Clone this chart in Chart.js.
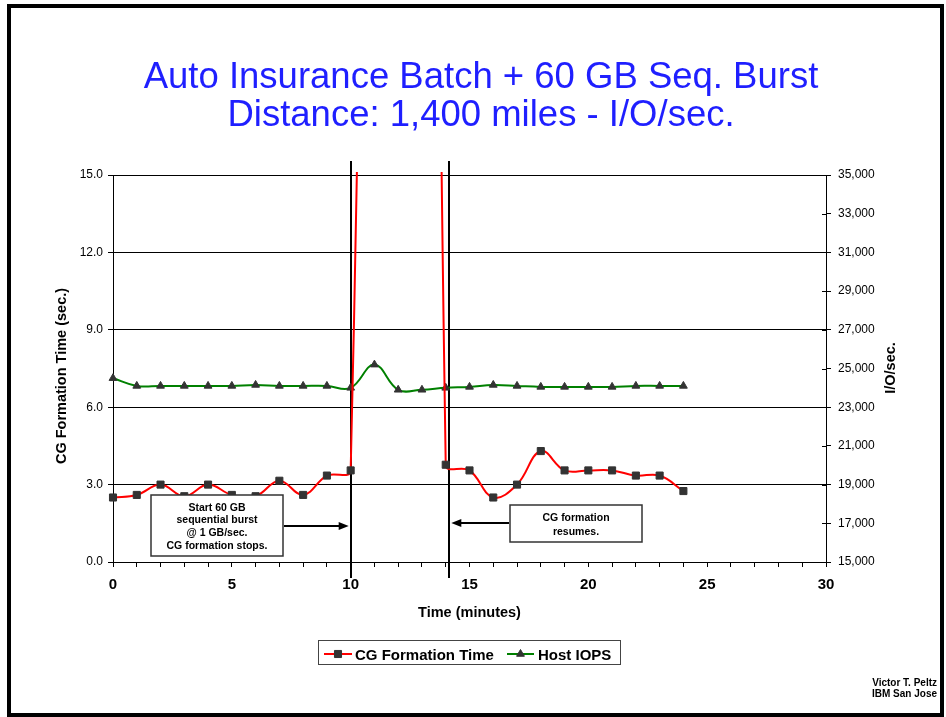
<!DOCTYPE html>
<html>
<head>
<meta charset="utf-8">
<title>Auto Insurance Batch + 60 GB Seq. Burst</title>
<script src="https://cdn.jsdelivr.net/npm/chart.js@4.4.1/dist/chart.umd.min.js"></script>
<style>
  html, body { margin: 0; padding: 0; background: #fff; }
  #wrap { width: 946px; height: 717px; }
</style>
</head>
<body>
<div id="wrap"><canvas id="chart" width="946" height="717"></canvas></div>
<script>
const FONT = "'Liberation Sans', Arial, Helvetica, sans-serif";

// data
const minutes = [0, 1, 2, 3, 4, 5, 6, 7, 8, 9, 10, 11, 12, 13, 14, 15, 16, 17, 18, 19, 20, 21, 22, 23, 24];
// CG formation time (sec.) - 11..13 are far off the top of the scale
const cgTime = [2.5, 2.6, 3.0, 2.55, 3.0, 2.6, 2.55, 3.15, 2.6, 3.35, 3.55, 80, 110, 120, 3.77, 3.55, 2.5, 3.0, 4.3, 3.55, 3.55, 3.55, 3.35, 3.35, 2.75];
// host I/O per second
const hostIops = [24500, 24100, 24100, 24100, 24100, 24100, 24150, 24100, 24100, 24100, 24000, 25200, 23900, 23900, 24000, 24050, 24150, 24100, 24050, 24050, 24050, 24050, 24100, 24100, 24100];

const seriesNames = ["CG Formation Time", "Host IOPS"];
const eventMinutes = [10, 14.15]; // burst start / CG formation resumes
const titleLines = ["Auto Insurance Batch + 60 GB Seq. Burst", "Distance: 1,400 miles - I/O/sec."];
const startNote = ["Start 60 GB", "sequential burst", "@ 1 GB/sec.", "CG formation stops."];
const resumeNote = ["CG formation", "resumes."];
const credits = ["Victor T. Peltz", "IBM San Jose"];

function arrow(ctx, x1, y, x2) {
  const dir = Math.sign(x2 - x1);
  ctx.beginPath();
  ctx.moveTo(x1, y);
  ctx.lineTo(x2 - dir * 8, y);
  ctx.stroke();
  ctx.beginPath();
  ctx.moveTo(x2, y);
  ctx.lineTo(x2 - dir * 10, y - 4);
  ctx.lineTo(x2 - dir * 10, y + 4);
  ctx.closePath();
  ctx.fill();
}

function noteBox(ctx, l, t, w, h, lines, firstBase, lh) {
  ctx.fillStyle = '#fff';
  ctx.fillRect(l, t, w, h);
  ctx.strokeStyle = '#333';
  ctx.lineWidth = 1.5;
  ctx.strokeRect(l, t, w, h);
  ctx.fillStyle = '#000';
  ctx.font = 'bold 10.5px ' + FONT;
  ctx.textAlign = 'center';
  ctx.textBaseline = 'alphabetic';
  lines.forEach((s, i) => ctx.fillText(s, l + w / 2, firstBase + i * lh));
}

const decor = {
  id: 'decor',
  beforeDatasetsDraw(chart) {
    const { ctx, chartArea: a, scales } = chart;
    ctx.save();
    // event lines
    ctx.strokeStyle = '#000';
    ctx.lineWidth = 2;
    eventMinutes.forEach(m => {
      const px = Math.round(scales.x.getPixelForValue(m));
      ctx.beginPath();
      ctx.moveTo(px, a.top - 14);
      ctx.lineTo(px, a.bottom + 16);
      ctx.stroke();
    });
    // right axis ticks crossing into plot
    ctx.lineWidth = 1;
    scales.y2.ticks.forEach(t => {
      const py = Math.round(scales.y2.getPixelForValue(t.value)) + 0.5;
      ctx.beginPath();
      ctx.moveTo(a.right - 4, py);
      ctx.lineTo(a.right, py);
      ctx.stroke();
    });
    ctx.restore();
  },
  afterDatasetsDraw(chart) {
    const { ctx, scales } = chart;
    const x1 = scales.x.getPixelForValue(eventMinutes[0]);
    const x2 = scales.x.getPixelForValue(eventMinutes[1]);
    ctx.save();
    noteBox(ctx, 151, 495, 132, 61, startNote, 510.5, 12.8);
    noteBox(ctx, 510, 505, 132, 37, resumeNote, 520.5, 14.3);
    ctx.strokeStyle = '#000';
    ctx.fillStyle = '#000';
    ctx.lineWidth = 2;
    arrow(ctx, 284, 526, x1 - 2);
    arrow(ctx, 509, 523, x2 + 2);
    ctx.restore();
  },
  afterDraw(chart) {
    const { ctx, chartArea: a } = chart;
    ctx.save();
    // title
    ctx.fillStyle = '#1f1fff';
    ctx.font = '36.5px ' + FONT;
    ctx.textAlign = 'center';
    ctx.textBaseline = 'alphabetic';
    ctx.fillText(titleLines[0], 481, 88);
    ctx.fillText(titleLines[1], 481, 126);

    // axis titles
    ctx.fillStyle = '#000';
    ctx.font = 'bold 14.5px ' + FONT;
    ctx.textBaseline = 'middle';
    ctx.fillText('Time (minutes)', (a.left + a.right) / 2, 613);
    ctx.save();
    ctx.translate(62, 376);
    ctx.rotate(-Math.PI / 2);
    ctx.fillText('CG Formation Time (sec.)', 0, 0);
    ctx.restore();
    ctx.save();
    ctx.translate(891, 368);
    ctx.rotate(-Math.PI / 2);
    ctx.fillText('I/O/sec.', 0, 0);
    ctx.restore();

    // legend
    ctx.strokeStyle = '#444';
    ctx.lineWidth = 1;
    ctx.strokeRect(318.5, 640.5, 302, 24);
    const items = [
      { x0: 324, x1: 352, tx: 355, color: '#ff0000', style: 'rect', r: 5 },
      { x0: 507, x1: 534, tx: 538, color: '#008000', style: 'triangle', r: 4.5 }
    ];
    ctx.font = 'bold 15px ' + FONT;
    ctx.textAlign = 'left';
    ctx.textBaseline = 'alphabetic';
    items.forEach((it, i) => {
      ctx.strokeStyle = it.color;
      ctx.lineWidth = 2;
      ctx.beginPath();
      ctx.moveTo(it.x0, 654);
      ctx.lineTo(it.x1, 654);
      ctx.stroke();
      ctx.fillStyle = '#333';
      ctx.strokeStyle = '#333';
      ctx.lineWidth = 1;
      Chart.helpers.drawPoint(ctx, { pointStyle: it.style, radius: it.r, borderWidth: 1 }, (it.x0 + it.x1) / 2, 654);
      ctx.fillStyle = '#000';
      ctx.fillText(seriesNames[i], it.tx, 659.5);
    });

    // credits
    ctx.font = 'bold 10px ' + FONT;
    ctx.textAlign = 'right';
    ctx.fillText(credits[0], 937, 685.5);
    ctx.fillText(credits[1], 937, 696.5);

    // slide frame
    ctx.strokeStyle = '#000';
    ctx.lineWidth = 4;
    ctx.strokeRect(9, 6, 933, 709);
    ctx.restore();
  }
};

const dataClip = { left: 8, right: 8, top: 3, bottom: 8 };

new Chart(document.getElementById('chart'), {
  type: 'line',
  data: {
    datasets: [
      {
        label: seriesNames[0],
        data: minutes.map((m, i) => ({ x: m, y: cgTime[i] })),
        yAxisID: 'y',
        borderColor: '#ff0000',
        borderWidth: 2,
        pointStyle: 'rect',
        pointRadius: 5,
        pointBackgroundColor: '#333',
        pointBorderColor: '#333',
        pointBorderWidth: 1,
        tension: 0.4,
        clip: dataClip
      },
      {
        label: seriesNames[1],
        data: minutes.map((m, i) => ({ x: m, y: hostIops[i] })),
        yAxisID: 'y2',
        borderColor: '#008000',
        borderWidth: 2,
        pointStyle: 'triangle',
        pointRadius: 4.5,
        pointBackgroundColor: '#333',
        pointBorderColor: '#333',
        pointBorderWidth: 1,
        tension: 0.4,
        clip: dataClip
      }
    ]
  },
  options: {
    responsive: false,
    animation: false,
    layout: { padding: { top: 175, left: 0, right: 0, bottom: 0 } },
    elements: { line: { capBezierPoints: false } },
    plugins: {
      legend: { display: false },
      title: { display: false },
      tooltip: { enabled: false }
    },
    scales: {
      x: {
        type: 'linear',
        min: 0,
        max: 30,
        ticks: {
          stepSize: 1,
          autoSkip: false,
          maxRotation: 0,
          padding: 9,
          color: '#000',
          font: { family: FONT, size: 15, weight: 'bold' },
          callback: v => (v % 5 === 0 ? String(v) : '')
        },
        grid: { drawOnChartArea: false, tickLength: 5, color: '#000' },
        border: { color: '#000', width: 1 },
        afterFit(s) { s.height = 155; }
      },
      y: {
        position: 'left',
        min: 0,
        max: 15,
        ticks: {
          stepSize: 3,
          padding: 5,
          color: '#000',
          font: { family: FONT, size: 12 },
          callback: v => v.toFixed(1)
        },
        grid: { color: '#000', tickLength: 5 },
        border: { color: '#000', width: 1 },
        afterFit(s) { s.width = 113; }
      },
      y2: {
        position: 'right',
        min: 15000,
        max: 35000,
        ticks: {
          stepSize: 2000,
          padding: 7,
          color: '#000',
          font: { family: FONT, size: 12 },
          callback: v => v.toLocaleString('en-US')
        },
        grid: { drawOnChartArea: false, color: '#000', tickLength: 5 },
        border: { color: '#000', width: 1 },
        afterFit(s) { s.width = 120; }
      }
    }
  },
  plugins: [decor]
});
</script>
</body>
</html>
